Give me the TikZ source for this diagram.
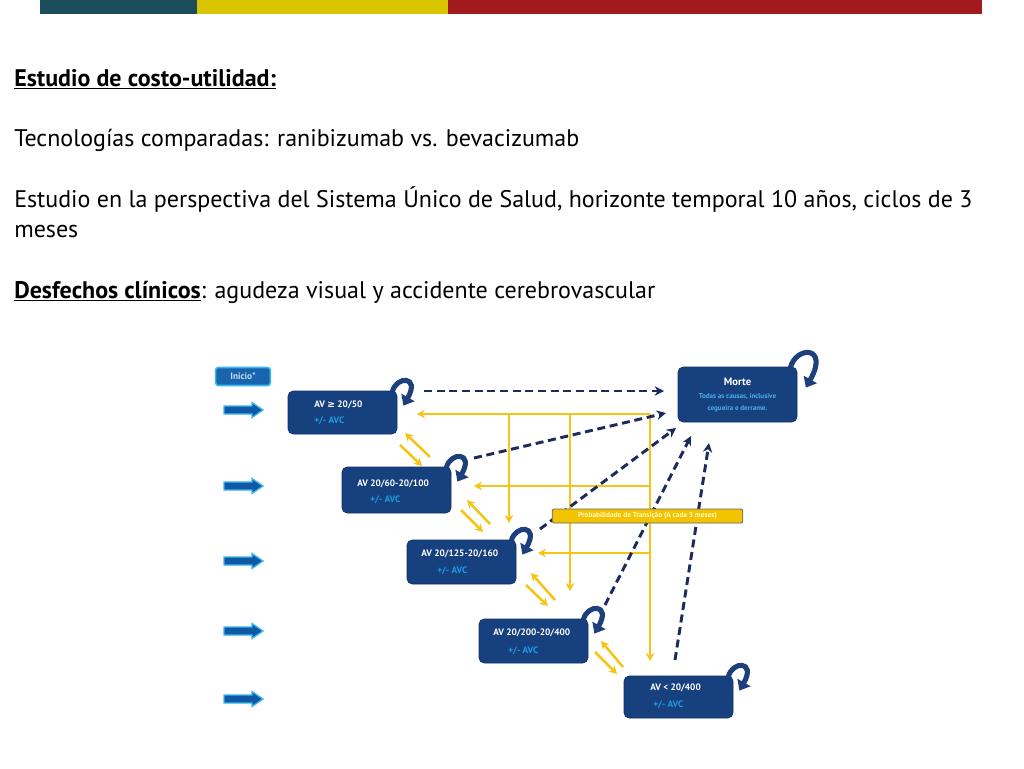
\documentclass[tikz,border=0pt]{standalone}
\usepackage{fontspec}
\setmainfont{PT Sans}
\newfontfamily\symfont{DejaVu Sans}
\usetikzlibrary{arrows.meta,calc}
\definecolor{boxnavy}{HTML}{17407F}
\definecolor{dashnavy}{HTML}{1C2B5E}
\definecolor{loopnavy}{HTML}{1D3F7C}
\definecolor{cyantxt}{HTML}{1E9CE2}
\definecolor{gold}{HTML}{F6C416}
\definecolor{probfill}{HTML}{F2C300}
\definecolor{barteal}{HTML}{1B4E5A}
\definecolor{baryel}{HTML}{D8C400}
\definecolor{barred}{HTML}{A31A1C}
\definecolor{iniciofill}{HTML}{1A63AE}
\definecolor{inicioedge}{HTML}{38B8EE}
\definecolor{iniciotxt}{HTML}{BFE0F6}
\definecolor{arrfill}{HTML}{0E58A4}
\definecolor{arredge}{HTML}{3CB6EE}
\newcommand{\selfloopcmd}[2]{%
  \draw[selfloop] ($(#1.north east)+(-5*#2,1)$) .. controls ($(#1.north east)+(-1*#2,-15*#2)$) and ($(#1.north east)+(23*#2,-15*#2)$) .. ($(#1.north east)+(6*#2,15*#2)$);}
\begin{document}
\begin{tikzpicture}[x=0.75pt,y=-0.75pt,
  txt/.style={anchor=base west,inner sep=0pt,font=\fontsize{18}{21}\selectfont},
  statebox/.style={draw=boxnavy!80!black,fill=boxnavy,rounded corners=4pt,minimum width=81.75pt,inner sep=0pt,line width=0.6pt},
  lbl/.style={anchor=west,inner sep=0pt,text=white,font=\fontsize{7}{8}\selectfont\bfseries},
  sublbl/.style={anchor=west,inner sep=0pt,text=cyantxt,font=\fontsize{7}{8}\selectfont\bfseries},
  ylw/.style={gold,line width=1.9pt,-{Stealth[length=6pt,width=6.5pt]}},
  dsh/.style={dashnavy,line width=2.2pt,dash pattern=on 6pt off 3.5pt,-{Stealth[length=7pt,width=7pt]}},
  selfloop/.style={loopnavy,line width=3.8pt,-{Triangle[length=7pt,width=11pt]}},
  blockarr/.style={fill=arrfill,draw=arredge,line width=1pt,line join=miter}]
\useasboundingbox (0,0) rectangle (1024,768);
\fill[white] (0,0) rectangle (1024,768);
% top bar
\fill[barteal] (40,0) rectangle (197,14);
\fill[baryel] (197,0) rectangle (448,14);
\fill[barred] (448,0) rectangle (982,14);
% texts
\node[txt] (t1) at (14,86) {\underline{\textbf{Estudio de costo-utilidad:}}};
\node[txt] (t2) at (14,146) {Tecnologías comparadas: ranibizumab vs. bevacizumab};
\node[txt] (t3) at (14,207) {Estudio en la perspectiva del Sistema Único de Salud, horizonte temporal 10 años, ciclos de 3};
\node[txt] (t4) at (14,237) {meses};
\node[txt] (t5) at (14,298) {\underline{\textbf{Desfechos clínicos}}: agudeza visual y accidente cerebrovascular};
% yellow transition lines
\coordinate (yc1) at (650,414);
\coordinate (yc2) at (509,414);
\coordinate (yc3) at (570,414);
\coordinate (yc4) at (650,486);
\coordinate (yc5) at (650,553);
\coordinate (ya1) at (417,414);
\coordinate (ya2) at (509,523);
\coordinate (ya3) at (570,591);
\coordinate (ya4) at (650,661);
\coordinate (ya5) at (474,486);
\coordinate (ya6) at (538,553);
\draw[ylw] (yc1) -- (ya1);
\draw[ylw] (yc2) -- (ya2);
\draw[ylw] (yc3) -- (ya3);
\draw[ylw] (yc1) -- (ya4);
\draw[ylw] (yc4) -- (ya5);
\draw[ylw] (yc5) -- (ya6);
% inicio box
\node[draw=inicioedge,fill=iniciofill,line width=1.2pt,rounded corners=2pt,minimum width=41pt,minimum height=13.5pt,inner sep=0pt,text=iniciotxt,font=\fontsize{7}{8}\selectfont\bfseries] (inicio) at (243,376.5) {Inicio*};
% block arrows
\foreach \yy in {410,486,561,631,699}{
  \filldraw[blockarr] (224,{\yy-4}) -- (252,{\yy-4}) -- (252,{\yy-7.5}) -- (263,\yy) -- (252,{\yy+7.5}) -- (252,{\yy+4}) -- (224,{\yy+4}) -- cycle;}
% state boxes
\node[statebox,minimum height=32.25pt] (b1) at (342.5,412.5) {};
\node[statebox,minimum height=34.5pt] (b2) at (396.5,490) {};
\node[statebox,minimum height=33pt] (b3) at (461.5,562) {};
\node[statebox,minimum height=33pt] (b4) at (533.5,641) {};
\node[statebox,minimum height=31.5pt] (b5) at (678.5,697) {};
\node[statebox,minimum width=89.25pt,minimum height=41.25pt] (morte) at (737.5,394.5) {};
\node[lbl] (l1) at (314,405) {AV {\symfont ≥} 20/50};
\node[sublbl] (s1) at (314,421) {+/- AVC};
\node[lbl] (l2) at (357,484) {AV 20/60-20/100};
\node[sublbl] (s2) at (370,500) {+/- AVC};
\node[lbl] (l3) at (421,554) {AV 20/125-20/160};
\node[sublbl] (s3) at (437,571) {+/- AVC};
\node[lbl] (l4) at (493,633) {AV 20/200-20/400};
\node[sublbl] (s4) at (508,651) {+/- AVC};
\node[lbl] (l5) at (650,688) {AV < 20/400};
\node[sublbl] (s5) at (653,705) {+/- AVC};
\node[inner sep=0pt,text=white,font=\fontsize{8}{9}\selectfont\bfseries] (lm) at (737.5,382) {Morte};
\node[inner sep=0pt,text=cyantxt!80!white,font=\fontsize{5.3}{9}\selectfont\bfseries,align=center] (sm) at (737.5,403) {Todas as causas, inclusive\\cegueira e derrame.};
% yellow exchange arrows between states
\coordinate (x1a) at (430,457); \coordinate (x1b) at (405,433);
\coordinate (x1c) at (400,445); \coordinate (x1d) at (422,466);
\coordinate (x2a) at (490,524); \coordinate (x2b) at (467,500);
\coordinate (x2c) at (461,510); \coordinate (x2d) at (483,532);
\coordinate (x3a) at (555,600); \coordinate (x3b) at (531,573);
\coordinate (x3c) at (526,585); \coordinate (x3d) at (548,606);
\coordinate (x4a) at (623,667); \coordinate (x4b) at (601,641);
\coordinate (x4c) at (595,652); \coordinate (x4d) at (617,674);
\foreach \k in {1,2,3,4}{
  \draw[ylw] (x\k a) -- (x\k b);
  \draw[ylw] (x\k c) -- (x\k d);}
% dashed transitions to death
\coordinate (d1s) at (424,391); \coordinate (d1e) at (664,391);
\coordinate (d2s) at (474,458); \coordinate (d2e) at (666,413);
\coordinate (d3s) at (540,529); \coordinate (d3e) at (676,428);
\coordinate (d4s) at (605,605); \coordinate (d4e) at (691,436);
\coordinate (d5s) at (675,660); \coordinate (d5e) at (709,443);
\foreach \k in {1,...,5}{\draw[dsh] (d\k s) -- (d\k e);}
% probability label (on top)
\node[draw=black!60,fill=probfill,rounded corners=1.5pt,line width=0.6pt,minimum width=143pt,minimum height=10.5pt,inner sep=0pt,text=yellow!25,font=\fontsize{5.5}{6}\selectfont\bfseries] (prob) at (647.5,516) {Probabilidade de Transição (A cada 3 meses)};
% self loops
\selfloopcmd{b1}{1}
\selfloopcmd{b2}{1}
\selfloopcmd{b3}{1}
\selfloopcmd{b4}{1}
\selfloopcmd{b5}{1}
\selfloopcmd{morte}{1.4}
\end{tikzpicture}
\end{document}
